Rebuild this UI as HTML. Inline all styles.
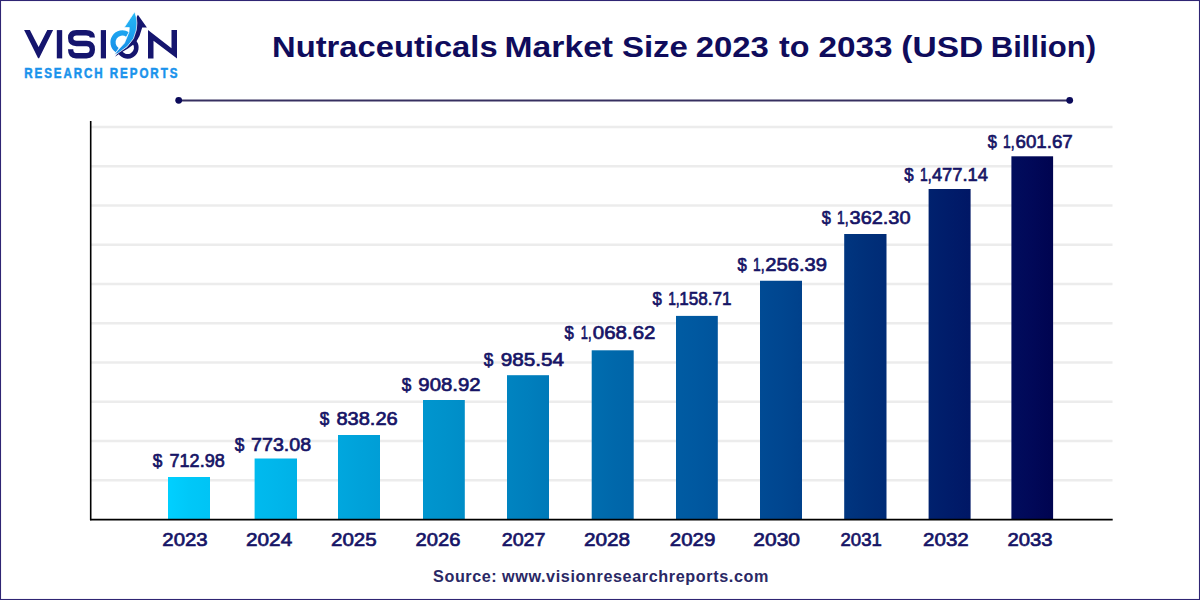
<!DOCTYPE html>
<html>
<head>
<meta charset="utf-8">
<style>
html,body{margin:0;padding:0;background:#fff;}
body{width:1200px;height:600px;overflow:hidden;position:relative;font-family:"Liberation Sans",sans-serif;}
svg{position:absolute;left:0;top:0;display:block;}
</style>
</head>
<body>
<svg width="1200" height="600" viewBox="0 0 1200 600">
<rect x="0.5" y="0.5" width="1199" height="599" fill="#fff" stroke="#2f2574" stroke-width="1.1"/>

<g id="logo">
<defs><linearGradient id="lb" gradientUnits="userSpaceOnUse" x1="0" y1="12" x2="0" y2="55"><stop offset="0" stop-color="#26b9f6"/><stop offset="0.5" stop-color="#1ca2ef"/><stop offset="1" stop-color="#1a8de6"/></linearGradient></defs>
<polygon fill="#15156e" points="24.1,30.1 29.9,30.1 38.6,46.9 47.3,30.1 53.1,30.1 39.1,58.2 38.1,58.2"/>
<rect fill="#15156e" x="56.8" y="30.1" width="5.4" height="28.3"/>
<path fill="none" stroke="#15156e" stroke-width="5.3" d="M92.35 37.6 Q92.35 32.75 86 32.75 L76.5 32.75 Q70.65 32.75 70.65 38.1 Q70.65 43.5 76.5 43.5 L86.5 43.5 Q92.35 43.5 92.35 49.6 Q92.35 55.75 86.5 55.75 L76 55.75 Q70.65 55.75 70.65 49.3"/>
<rect fill="#15156e" x="100.8" y="30.1" width="5.2" height="28.3"/>
<polygon fill="#15156e" points="148,30.1 171.5,48.3 171.5,30.1 177,30.1 177,58.4 153.5,40.8 153.5,58.4 148,58.4"/>
<!-- O navy -->
<path fill="none" stroke="#15156e" stroke-width="4.6" d="M134.2 41.9 A8.75 8.75 0 1 1 119.3 50.5"/>
<polygon fill="#15156e" points="137.9,14.75 146.9,27.4 142.2,27.6 139.5,36 135.5,43 128,48.5 120,53.2 115,56.8 117.5,53.5 127,46.8 133.3,38.6 135.8,29 131,27.4"/>
<!-- O light blue -->
<path fill="none" stroke="url(#lb)" stroke-width="5.2" d="M127.5 34.5 A9.3 9.3 0 1 0 117.2 50.1"/>
<polygon fill="url(#lb)" stroke="#fff" stroke-width="0.7" stroke-linejoin="round" points="114.3,54.5 117.5,50.6 124.5,43 128.9,32.2 129.3,27.6 124.2,27.6 134.6,11.8 136.3,17 136.9,23 136.3,30 133.5,38.6 127,46.8 117.5,53.5"/>

<text transform="translate(24.20,0) scale(0.84,1) translate(-24.20,0)" x="24.20" y="78.20" font-family="Liberation Sans" font-weight="bold" font-size="13.8" fill="#1a93ec" stroke="#1a93ec" stroke-width="0.5" textLength="182.38" lengthAdjust="spacing">RESEARCH REPORTS</text>
</g>

<g id="title" font-family="Liberation Sans" font-weight="bold" font-size="29" fill="#0f0c5c" stroke="#0f0c5c" stroke-width="0">
<text x="272.11" y="56.70" textLength="225.47" lengthAdjust="spacingAndGlyphs">Nutraceuticals</text>
<text x="504.57" y="56.70" textLength="108.52" lengthAdjust="spacingAndGlyphs">Market</text>
<text x="621.91" y="56.70" textLength="65.94" lengthAdjust="spacingAndGlyphs">Size</text>
<text x="695.77" y="56.70" textLength="73.13" lengthAdjust="spacingAndGlyphs">2023</text>
<text x="778.97" y="56.70" textLength="30.44" lengthAdjust="spacingAndGlyphs">to</text>
<text x="818.54" y="56.70" textLength="74.11" lengthAdjust="spacingAndGlyphs">2033</text>
<text x="901.36" y="56.70" textLength="81.84" lengthAdjust="spacingAndGlyphs">(USD</text>
<text x="990.80" y="56.70" textLength="105.30" lengthAdjust="spacingAndGlyphs">Billion)</text>
</g>

<g class="divider">
<line x1="179" y1="100.5" x2="1070" y2="100.5" stroke="#363060" stroke-width="2"/>
<circle cx="178.7" cy="100.3" r="3.4" fill="#0b0a5a"/>
<circle cx="1069.7" cy="100.3" r="3.4" fill="#0b0a5a"/>
</g>

<g class="grid" stroke="#ececec" stroke-width="2.5">
<line x1="91" y1="127.00" x2="1112.5" y2="127.00"/>
<line x1="91" y1="166.25" x2="1112.5" y2="166.25"/>
<line x1="91" y1="205.50" x2="1112.5" y2="205.50"/>
<line x1="91" y1="244.75" x2="1112.5" y2="244.75"/>
<line x1="91" y1="284.00" x2="1112.5" y2="284.00"/>
<line x1="91" y1="323.25" x2="1112.5" y2="323.25"/>
<line x1="91" y1="362.50" x2="1112.5" y2="362.50"/>
<line x1="91" y1="401.75" x2="1112.5" y2="401.75"/>
<line x1="91" y1="441.00" x2="1112.5" y2="441.00"/>
<line x1="91" y1="480.25" x2="1112.5" y2="480.25"/>
</g>

<defs><linearGradient id="bg" gradientUnits="userSpaceOnUse" x1="168" y1="0" x2="1053.1" y2="0"><stop offset="0" stop-color="#00d0ff"/><stop offset="0.0237" stop-color="#00c8f8"/><stop offset="0.1218" stop-color="#00b6eb"/><stop offset="0.2158" stop-color="#00a2da"/><stop offset="0.3117" stop-color="#0092cb"/><stop offset="0.4067" stop-color="#007fbd"/><stop offset="0.5024" stop-color="#0068ab"/><stop offset="0.5976" stop-color="#0058a0"/><stop offset="0.6926" stop-color="#004690"/><stop offset="0.7879" stop-color="#00307a"/><stop offset="0.8831" stop-color="#001c6a"/><stop offset="0.9764" stop-color="#010858"/><stop offset="1" stop-color="#000450"/></linearGradient></defs>
<g class="bars" fill="url(#bg)">
<rect x="168" y="477" width="42.00" height="42.60"/>
<rect x="254.6" y="458.5" width="42.40" height="61.10"/>
<rect x="338" y="435" width="42.00" height="84.60"/>
<rect x="423" y="400" width="41.80" height="119.60"/>
<rect x="507" y="375.2" width="42.00" height="144.40"/>
<rect x="591.7" y="350.3" width="42.00" height="169.30"/>
<rect x="676" y="315.9" width="41.80" height="203.70"/>
<rect x="760" y="280.75" width="42.00" height="238.85"/>
<rect x="844.2" y="234" width="42.30" height="285.60"/>
<rect x="928.6" y="189" width="42.00" height="330.60"/>
<rect x="1011.4" y="156.3" width="41.70" height="363.30"/>
</g>

<g class="axes" stroke="#000" stroke-width="1.6">
<line x1="90.7" y1="121" x2="90.7" y2="520.3"/>
<line x1="90" y1="519.6" x2="1112.7" y2="519.6"/>
</g>

<g class="vlab" font-family="Liberation Sans" font-weight="normal" font-size="19" fill="#161466" stroke="#161466" stroke-width="0.7">
<text class="s0" x="152.86" y="467.20" textLength="9.60" lengthAdjust="spacingAndGlyphs">$</text>
<text class="s2" x="169.53" y="467.20" textLength="55.22" lengthAdjust="spacingAndGlyphs">712.98</text>
<text class="s0" x="234.86" y="450.65" textLength="9.60" lengthAdjust="spacingAndGlyphs">$</text>
<text class="s2" x="251.09" y="450.65" textLength="60.00" lengthAdjust="spacingAndGlyphs">773.08</text>
<text class="s0" x="319.72" y="425.40" textLength="9.55" lengthAdjust="spacingAndGlyphs">$</text>
<text class="s2" x="336.40" y="425.40" textLength="61.36" lengthAdjust="spacingAndGlyphs">838.26</text>
<text class="s0" x="401.72" y="391.10" textLength="9.55" lengthAdjust="spacingAndGlyphs">$</text>
<text class="s2" x="418.37" y="391.10" textLength="62.13" lengthAdjust="spacingAndGlyphs">908.92</text>
<text class="s0" x="483.72" y="366.20" textLength="9.55" lengthAdjust="spacingAndGlyphs">$</text>
<text class="s2" x="500.70" y="366.20" textLength="63.24" lengthAdjust="spacingAndGlyphs">985.54</text>
<text class="s0" x="564.55" y="339.10" textLength="9.28" lengthAdjust="spacingAndGlyphs">$</text>
<text class="s1" x="580.77" y="339.10" textLength="10.79" lengthAdjust="spacingAndGlyphs">1,</text>
<text class="s2" x="592.85" y="339.10" textLength="62.63" lengthAdjust="spacingAndGlyphs">068.62</text>
<text class="s0" x="652.55" y="305.20" textLength="9.28" lengthAdjust="spacingAndGlyphs">$</text>
<text class="s1" x="668.15" y="305.20" textLength="11.56" lengthAdjust="spacingAndGlyphs">1,</text>
<text class="s2" x="679.18" y="305.20" textLength="52.41" lengthAdjust="spacingAndGlyphs">158.71</text>
<text class="s0" x="737.55" y="271.10" textLength="9.28" lengthAdjust="spacingAndGlyphs">$</text>
<text class="s1" x="753.10" y="271.10" textLength="11.58" lengthAdjust="spacingAndGlyphs">1,</text>
<text class="s2" x="765.22" y="271.10" textLength="61.72" lengthAdjust="spacingAndGlyphs">256.39</text>
<text class="s0" x="821.82" y="224.10" textLength="9.11" lengthAdjust="spacingAndGlyphs">$</text>
<text class="s1" x="837.10" y="224.10" textLength="11.58" lengthAdjust="spacingAndGlyphs">1,</text>
<text class="s2" x="849.57" y="224.10" textLength="60.96" lengthAdjust="spacingAndGlyphs">362.30</text>
<text class="s0" x="904.26" y="180.65" textLength="9.37" lengthAdjust="spacingAndGlyphs">$</text>
<text class="s1" x="920.08" y="180.65" textLength="11.62" lengthAdjust="spacingAndGlyphs">1,</text>
<text class="s2" x="931.90" y="180.65" textLength="55.94" lengthAdjust="spacingAndGlyphs">477.14</text>
<text class="s0" x="987.82" y="147.90" textLength="9.11" lengthAdjust="spacingAndGlyphs">$</text>
<text class="s1" x="1003.10" y="147.90" textLength="11.58" lengthAdjust="spacingAndGlyphs">1,</text>
<text class="s2" x="1015.47" y="147.90" textLength="57.27" lengthAdjust="spacingAndGlyphs">601.67</text>
</g>

<g class="ylab" font-family="Liberation Sans" font-weight="normal" font-size="19" fill="#161466" stroke="#161466" stroke-width="0.7">
<text x="162.32" y="546.40" textLength="45.35" lengthAdjust="spacingAndGlyphs">2023</text>
<text x="246.05" y="546.40" textLength="46.12" lengthAdjust="spacingAndGlyphs">2024</text>
<text x="330.98" y="546.40" textLength="45.77" lengthAdjust="spacingAndGlyphs">2025</text>
<text x="415.48" y="546.40" textLength="44.90" lengthAdjust="spacingAndGlyphs">2026</text>
<text x="501.73" y="546.40" textLength="43.80" lengthAdjust="spacingAndGlyphs">2027</text>
<text x="583.93" y="546.40" textLength="46.17" lengthAdjust="spacingAndGlyphs">2028</text>
<text x="669.77" y="546.40" textLength="45.55" lengthAdjust="spacingAndGlyphs">2029</text>
<text x="753.35" y="546.40" textLength="46.68" lengthAdjust="spacingAndGlyphs">2030</text>
<text x="840.53" y="546.40" textLength="41.28" lengthAdjust="spacingAndGlyphs">2031</text>
<text x="923.09" y="546.40" textLength="45.67" lengthAdjust="spacingAndGlyphs">2032</text>
<text x="1007.46" y="546.40" textLength="45.13" lengthAdjust="spacingAndGlyphs">2033</text>
</g>

<g id="source" font-family="Liberation Sans" font-weight="bold" font-size="16.2" fill="#2a2865" stroke="#2a2865" stroke-width="0">
<text x="433.11" y="582.00" textLength="63.57" lengthAdjust="spacing">Source:</text>
<text x="502.01" y="582.00" textLength="266.43" lengthAdjust="spacing">www.visionresearchreports.com</text>
</g>
</svg>
</body>
</html>
